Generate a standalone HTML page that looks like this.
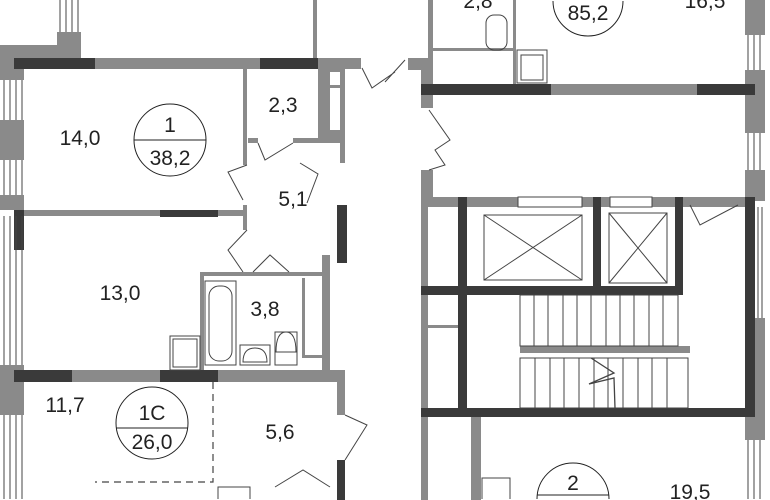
<!DOCTYPE html>
<html><head><meta charset="utf-8"><style>
html,body{margin:0;padding:0;background:#fff;width:770px;height:500px;overflow:hidden}
svg{display:block;overflow:hidden}
text{font-family:"Liberation Sans",sans-serif;fill:#222;font-size:21px;text-anchor:middle}
</style></head><body>
<svg width="770" height="500" viewBox="0 0 770 500" xmlns="http://www.w3.org/2000/svg">
<g fill="#8a8a8a">
<rect x="0" y="45" width="57" height="13"/><rect x="57" y="32" width="24" height="26"/>
<rect x="313" y="0" width="4" height="58"/>
<rect x="95" y="58" width="165" height="11"/><rect x="318" y="58" width="43" height="11"/>
<rect x="0" y="58" width="24" height="22"/><rect x="0" y="120" width="24" height="40"/><rect x="0" y="195" width="24" height="15"/>
<rect x="0" y="365" width="24" height="50"/>
<rect x="24" y="210" width="136" height="6"/><rect x="218" y="210" width="27" height="6"/>
<rect x="243" y="68" width="4" height="97"/>
<rect x="248" y="138" width="10" height="5"/><rect x="293" y="138" width="25" height="5"/>
<rect x="318" y="68" width="12" height="75"/><rect x="340" y="68" width="5" height="95"/><rect x="330" y="68" width="10" height="4"/><rect x="330" y="85" width="10" height="3"/><rect x="330" y="130" width="10" height="13"/>
<rect x="243" y="205" width="4" height="25"/>
<rect x="200" y="272" width="122" height="4"/><rect x="200" y="272" width="4" height="100"/>
<rect x="322" y="255" width="8" height="117"/><rect x="302" y="278" width="3" height="80"/><rect x="302" y="355" width="20" height="3"/>
<rect x="72" y="370" width="88" height="12"/><rect x="218" y="370" width="127" height="12"/>
<rect x="337" y="370" width="8" height="45"/>
<rect x="428" y="0" width="5" height="85"/><rect x="433" y="48" width="82" height="3"/><rect x="513" y="0" width="3" height="84"/>
<rect x="551" y="84" width="146" height="11"/>
<rect x="408" y="58" width="25" height="12"/><rect x="421" y="58" width="12" height="50"/><rect x="421" y="170" width="12" height="30"/>
<rect x="421" y="197" width="324" height="10"/>
<rect x="421" y="207" width="7" height="293"/><rect x="428" y="325" width="30" height="3"/>
<rect x="520" y="346" width="170" height="7"/>
<rect x="471" y="417" width="10" height="83"/>
<rect x="745" y="0" width="20" height="35"/><rect x="745" y="70" width="20" height="63"/><rect x="745" y="170" width="20" height="27"/>
<rect x="745" y="197" width="20" height="4"/><rect x="755" y="318" width="10" height="12"/><rect x="745" y="417" width="20" height="23"/>
<rect x="755" y="330" width="10" height="90"/>
</g>
<g fill="#3a3a3a">
<rect x="14" y="58" width="81" height="11"/><rect x="260" y="58" width="58" height="11"/>
<rect x="14" y="210" width="10" height="40"/><rect x="160" y="210" width="58" height="7"/>
<rect x="337" y="205" width="10" height="58"/>
<rect x="14" y="370" width="58" height="12"/><rect x="160" y="370" width="58" height="12"/>
<rect x="337" y="460" width="8" height="40"/>
<rect x="421" y="84" width="130" height="11"/><rect x="697" y="84" width="58" height="11"/>
<rect x="458" y="197" width="9" height="218"/><rect x="593" y="197" width="8" height="93"/><rect x="675" y="197" width="8" height="93"/>
<rect x="421" y="286" width="262" height="9"/>
<rect x="421" y="408" width="334" height="9"/>
<rect x="745" y="197" width="10" height="220"/>
</g>
<g fill="none" stroke="#444" stroke-width="1">
<path d="M60 0V32M66 0V32M72 0V32M78 0V32"/>
<path d="M4 80V120M10 80V120M16 80V120M22 80V120M4 160V195M10 160V195M16 160V195M22 160V195"/>
<path d="M4 216V365M10 216V365M16 216V365M22 216V365M4 415V499M10 415V499M16 415V499M22 415V499"/>
<path d="M748 35V70M754 35V70M760 35V70M748 133V170M754 133V170M760 133V170M748 440V499M754 440V499M760 440V499M758 207V318M762 207V318"/>
<rect x="205" y="281" width="31" height="84"/><rect x="209" y="286" width="23" height="75" rx="10"/>
<rect x="240" y="345" width="30" height="20"/><path d="M243 362 Q243 348 255 348 Q267 348 267 362Z"/>
<rect x="275" y="332" width="22" height="33"/><path d="M276 352 Q276 332 286 332 Q296 332 296 352Z"/>
<rect x="170" y="336" width="30" height="34"/><rect x="173" y="339" width="24" height="28"/>
<rect x="486" y="15" width="21" height="35" rx="8"/><rect x="517" y="50" width="30" height="33"/><rect x="521" y="55" width="22" height="25"/>
<rect x="518" y="197" width="64" height="10" fill="#fff"/><rect x="610" y="197" width="42" height="10" fill="#fff"/>
<rect x="484" y="215" width="98" height="65"/><path d="M484 215L582 280M582 215L484 280"/>
<rect x="609" y="213" width="58" height="70"/><path d="M609 213L667 283M667 213L609 283"/>
<path d="M482 499V478H510V499M218 499V487H250V499"/>
<rect x="520" y="295" width="158" height="51"/>
<path d="M534 295V346M548 295V346M563 295V346M577 295V346M591 295V346M606 295V346M620 295V346M634 295V346M649 295V346M663 295V346"/>
<rect x="520" y="358" width="168" height="50"/>
<path d="M535 358V408M550 358V408M564 358V408M579 358V408M594 358V408M608 358V408M623 358V408M638 358V408M652 358V408M667 358V408"/>
<path d="M591 358L614 373L589 384L614 378L615 408" stroke-width="1.3"/>
<path d="M258 143L265 160L293 143M247 165L228 172L243 200M247 230L228 250L243 272M300 163L318 174L307 203M253 272L270 255L289 272"/>
<path d="M345 415L367 425L345 460M275 487L303 470L330 487M362 68L372 88L395 72M405 60L385 82"/>
<path d="M429 110L450 140L435 150L445 165L429 170M690 205L700 225L738 205"/>
</g>
<path d="M213 382V482H95" fill="none" stroke="#444" stroke-width="1.2" stroke-dasharray="7,5"/>
<g fill="none" stroke="#222" stroke-width="1">
<circle cx="170" cy="140" r="36"/><path d="M134 140H206"/>
<circle cx="152" cy="423" r="36"/><path d="M116 428H188"/>
<path d="M553 1A35 35 0 0 0 623 1"/>
<path d="M537 499A36 36 0 0 1 609 499M537 495H609"/>
</g>
<text x="80" y="145">14,0</text><text x="170" y="132">1</text><text x="170" y="165">38,2</text>
<text x="283" y="112">2,3</text><text x="293" y="206">5,1</text>
<text x="120" y="300">13,0</text><text x="265" y="316">3,8</text>
<text x="65" y="412">11,7</text><text x="152" y="420">1С</text><text x="152" y="449">26,0</text>
<text x="280" y="439">5,6</text>
<text x="588" y="20">85,2</text><text x="478" y="8">2,8</text><text x="705" y="8">16,5</text>
<text x="573" y="490">2</text><text x="690" y="499">19,5</text>
</svg>
</body></html>
